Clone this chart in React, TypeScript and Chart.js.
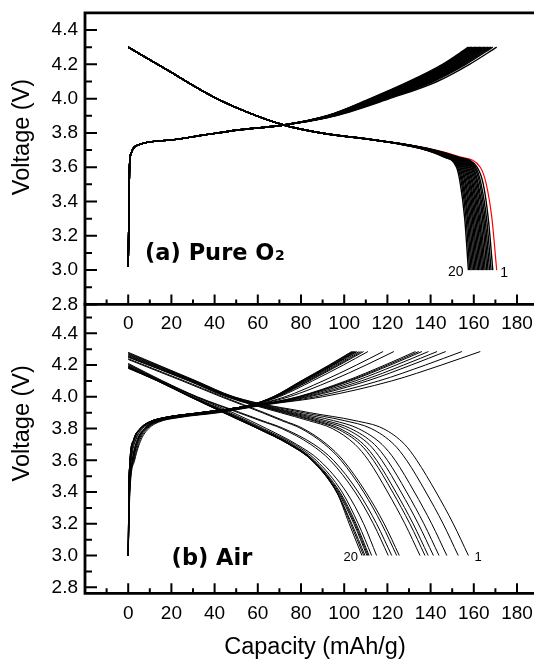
import React, { useEffect, useRef } from 'react';
import { Chart, registerables } from 'chart.js';

Chart.register(...registerables);

// ---------------- data ----------------
const X_TICKS = [0, 20, 40, 60, 80, 100, 120, 140, 160, 180];
const X_MINOR = [-10, 10, 30, 50, 70, 90, 110, 130, 150, 170, 190];
const Y_TICKS = [2.8, 3.0, 3.2, 3.4, 3.6, 3.8, 4.0, 4.2, 4.4];
const Y_MINOR = [2.9, 3.1, 3.3, 3.5, 3.7, 3.9, 4.1, 4.3, 4.5];

// (a) Pure O2 — charge: common start, then per-cycle capacity at tail voltages
const O2_CHG_HEAD_C = [0, 0.3, 0.6, 1.3, 3.6, 19.4, 35.1, 50.9, 72];
const O2_CHG_HEAD_V = [3.02, 3.3, 3.6, 3.68, 3.725, 3.758, 3.788, 3.817, 3.846];
const O2_CHG_TAIL_V = [3.9, 4.0, 4.1, 4.2, 4.3];
const O2_CHG_TAIL_C = [
  [96, 121, 143, 158, 170.6],
  [95.5, 119.8, 141.2, 156.3, 168.8],
  [95.2, 119.2, 140.4, 155.5, 168.0],
  [95, 118.7, 139.7, 154.9, 167.3],
  [94.8, 118.3, 139, 154.2, 166.6],
  [94.6, 117.8, 138.4, 153.6, 166],
  [94.4, 117.4, 137.7, 152.9, 165.3],
  [94.2, 117, 137.2, 152.4, 164.7],
  [94, 116.5, 136.6, 151.8, 164.1],
  [93.8, 116.1, 136, 151.2, 163.5],
  [93.6, 115.7, 135.4, 150.6, 162.9],
  [93.5, 115.3, 134.8, 150.1, 162.3],
  [93.3, 114.9, 134.2, 149.5, 161.7],
  [93.1, 114.5, 133.6, 148.9, 161.1],
  [92.9, 114.1, 133, 148.4, 160.5],
  [92.7, 113.6, 132.4, 147.8, 159.9],
  [92.5, 113.2, 131.8, 147.2, 159.3],
  [92.4, 112.8, 131.2, 146.6, 158.7],
  [92.2, 112.4, 130.6, 146.1, 158.1],
  [92, 112, 130, 145.5, 157.5],
];
// (a) Pure O2 — discharge
const O2_DIS_HEAD_C = [0, 19.4, 35.1, 50.9, 72, 90, 113.9];
const O2_DIS_HEAD_V = [4.3, 4.157, 4.04, 3.943, 3.846, 3.798, 3.759];
const O2_DIS_TAIL_V = [3.71, 3.66, 3.6, 3.5, 3.3, 3.0];
const O2_DIS_TAIL_C = [
  [139, 153.5, 163, 165.8, 168.4, 170.6],
  [138.5, 152.5, 161.5, 164.4, 166.7, 168.8],
  [138.2, 152, 160.8, 163.4, 165.9, 168.0],
  [138, 151.6, 160.2, 162.8, 165.2, 167.3],
  [137.8, 151.2, 159.6, 162.1, 164.6, 166.6],
  [137.6, 150.9, 159.1, 161.6, 164, 166],
  [137.4, 150.5, 158.5, 161, 163.3, 165.3],
  [137.2, 150.1, 158, 160.4, 162.7, 164.7],
  [137, 149.8, 157.5, 159.8, 162.2, 164.1],
  [136.8, 149.4, 157, 159.3, 161.6, 163.5],
  [136.6, 149.1, 156.5, 158.7, 161, 162.9],
  [136.5, 148.7, 156, 158.2, 160.4, 162.3],
  [136.3, 148.4, 155.5, 157.7, 159.8, 161.7],
  [136.1, 148.1, 155, 157.1, 159.3, 161.1],
  [135.9, 147.7, 154.5, 156.5, 158.7, 160.5],
  [135.7, 147.4, 154, 156, 158.1, 159.9],
  [135.5, 147, 153.5, 155.4, 157.5, 159.3],
  [135.4, 146.7, 153, 154.9, 157, 158.7],
  [135.2, 146.3, 152.5, 154.4, 156.4, 158.1],
  [135, 146, 152, 153.8, 155.8, 157.5],
];

// (b) Air — charge: capacity per cycle at each voltage
const AIR_CHG_V = [3.0, 3.4, 3.6, 3.73, 3.8, 3.84, 3.87, 3.9, 3.95, 4.0, 4.1, 4.2, 4.285];
const AIR_CHG_C = [
  [0, 0.8, 3, 6, 9.5, 14, 24, 42, 64, 90, 122, 145, 163],
  [0, 0.7, 2.7, 5.5, 8.9, 13.4, 23, 40.7, 63, 86.7, 116, 137.6, 154.5],
  [0, 0.7, 2.4, 5.1, 8.4, 12.8, 22.1, 39.6, 62.1, 83.8, 110.7, 131, 147],
  [0, 0.6, 2.3, 4.8, 8.2, 12.5, 21.6, 39, 61.6, 82.3, 107.9, 127.5, 143],
  [0, 0.6, 2.1, 4.6, 7.9, 12.2, 21.2, 38.4, 61.2, 80.7, 105.1, 124, 139],
  [0, 0.6, 2, 4.4, 7.7, 12, 20.8, 37.9, 60.8, 79.6, 102.9, 121.4, 136],
  [0, 0.6, 2, 4.3, 7.6, 11.8, 20.6, 37.7, 60.6, 79, 101.9, 120.1, 134.5],
  [0, 0.5, 1.9, 4.2, 7.5, 11.7, 20.5, 37.5, 60.5, 78.4, 100.8, 118.8, 133],
  [0, 0.5, 1.5, 3.6, 6.8, 11, 19.3, 36, 59.3, 74.5, 93.8, 110.1, 123],
  [0, 0.4, 1.3, 3.4, 6.5, 10.6, 18.7, 35.2, 58.7, 72.6, 90.2, 105.7, 118],
  [0, 0.4, 1.1, 2.9, 6, 10.1, 17.9, 34.1, 57.9, 69.9, 85.3, 99.6, 111],
  [0, 0.3, 1, 2.8, 5.9, 9.9, 17.6, 33.8, 57.6, 69.1, 83.9, 97.8, 109],
  [0, 0.3, 1, 2.8, 5.8, 9.8, 17.5, 33.7, 57.5, 68.7, 83.2, 97, 108],
  [0, 0.3, 0.9, 2.7, 5.7, 9.8, 17.4, 33.5, 57.4, 68.4, 82.5, 96.1, 107],
  [0, 0.3, 0.9, 2.6, 5.7, 9.7, 17.3, 33.4, 57.3, 68, 81.8, 95.2, 106],
  [0, 0.3, 0.9, 2.6, 5.6, 9.7, 17.2, 33.3, 57.2, 67.8, 81.4, 94.8, 105.5],
  [0, 0.3, 0.9, 2.6, 5.6, 9.6, 17.2, 33.2, 57.2, 67.6, 81.1, 94.3, 105],
  [0, 0.3, 0.8, 2.6, 5.6, 9.6, 17.1, 33.2, 57.1, 67.4, 80.7, 93.9, 104.5],
  [0, 0.3, 0.8, 2.5, 5.5, 9.5, 17.1, 33.1, 57.1, 67.2, 80.3, 93.4, 104],
  [0, 0.3, 0.8, 2.5, 5.5, 9.5, 17, 33, 57, 67, 80, 93, 103.5],
];
// (b) Air — discharge: open-circuit start voltage, then capacity at each voltage
const AIR_DIS_START_V = [4.28, 4.275, 4.27, 4.265, 4.26, 4.255, 4.25, 4.25, 4.24, 4.235, 4.21, 4.205, 4.2, 4.195, 4.19, 4.19, 4.185, 4.185, 4.18, 4.18];
const AIR_DIS_V = [4.1, 4.0, 3.9, 3.85, 3.8, 3.7, 3.6, 3.4, 3.2, 3.0];
const AIR_DIS_C = [
  [31.5, 49, 84, 105, 118, 128, 133.6, 142.5, 150.5, 157.5],
  [31, 48.5, 81, 100, 112.5, 123, 128.9, 137.8, 145.8, 152.8],
  [30.5, 48, 78, 95, 106.5, 117.5, 123.6, 132.5, 140.5, 147.5],
  [30, 47.5, 76, 91.5, 103, 114, 120, 128.9, 136.9, 143.9],
  [29.5, 47, 74.5, 89, 100.5, 111.5, 117.4, 126.3, 134.3, 141.3],
  [29, 46.5, 73, 87, 98, 109, 115, 123.9, 131.9, 138.9],
  [28.5, 46, 72, 85.5, 96.5, 107.5, 113.5, 122.4, 130.4, 137.4],
  [28, 45.5, 70.5, 83.5, 94.5, 105, 111.2, 120.1, 128.1, 135.1],
  [26, 44, 63, 72, 81, 92, 99.5, 110, 118.5, 125.5],
  [25, 43, 62, 71, 80, 91, 98.5, 109, 117.3, 124.3],
  [16, 32, 52, 62, 72, 86, 95, 106.5, 115, 122],
  [15.5, 31.5, 51, 61, 71, 84.5, 93.5, 105, 113.5, 120.4],
  [15, 31, 48.5, 56.5, 64, 78, 88.5, 101, 109, 115],
  [14.5, 30, 47, 55, 62.5, 77, 87, 99, 106.5, 112.7],
  [14, 29.5, 46, 54, 61.5, 76, 86, 98, 105.5, 111.5],
  [14, 29, 45.5, 53.5, 61, 75.5, 85.5, 97.5, 105, 111],
  [13.8, 29, 45, 53, 60.5, 75, 85.5, 97, 104.5, 110.5],
  [13.7, 28.8, 44.5, 52.5, 60, 74.5, 85, 96.5, 103.5, 109.6],
  [13.6, 28.6, 44.2, 52, 60, 74.5, 85, 96.5, 103, 109],
  [13.5, 28.5, 44, 52, 60, 74.5, 85, 96.5, 102.3, 108.2],
];

// ---------------- styling ----------------
const FONT = "'Liberation Sans', Arial, Helvetica, sans-serif";
const BOLD_FONT = "'DejaVu Sans', 'Liberation Sans', sans-serif";
const CANVAS_W = 570;
const LEFT = 85;
const RIGHT_PAD = 9.8;

function pts(cs: number[], vs: number[]) {
  return cs.map((c, i) => ({ x: c, y: vs[i] }));
}

function o2Datasets() {
  const ds: any[] = [];
  O2_DIS_TAIL_C.forEach((tail, k) => {
    ds.push({
      label: `Cycle ${k + 1} discharge`,
      data: pts([...O2_DIS_HEAD_C, ...tail], [...O2_DIS_HEAD_V, ...O2_DIS_TAIL_V]),
      borderColor: k === 0 ? '#ff0000' : '#000000',
      borderWidth: k === 0 ? 1.2 : 1.4,
      order: k === 0 ? 1 : 0,
    });
  });
  O2_CHG_TAIL_C.forEach((tail, k) => {
    ds.push({
      label: `Cycle ${k + 1} charge`,
      data: pts([...O2_CHG_HEAD_C, ...tail], [...O2_CHG_HEAD_V, ...O2_CHG_TAIL_V]),
      borderColor: '#000000',
      borderWidth: 1.4,
      order: 0,
    });
  });
  return ds;
}

function airDatasets() {
  const ds: any[] = [];
  AIR_DIS_C.forEach((row, k) => {
    ds.push({
      label: `Cycle ${k + 1} discharge`,
      data: pts([0, ...row], [AIR_DIS_START_V[k], ...AIR_DIS_V]),
      borderColor: '#000000',
      borderWidth: 1,
    });
  });
  AIR_CHG_C.forEach((row, k) => {
    ds.push({
      label: `Cycle ${k + 1} charge`,
      data: pts(row, AIR_CHG_V),
      borderColor: '#000000',
      borderWidth: 1,
    });
  });
  return ds;
}

function framePlugin(p: any) {
  return {
    id: 'frame',
    afterDraw(chart: any) {
      const { ctx, chartArea: a } = chart;
      const xs = chart.scales.x;
      const ys = chart.scales.y;
      ctx.save();
      ctx.strokeStyle = '#000';
      ctx.fillStyle = '#000';
      // inward ticks
      ctx.lineWidth = 2;
      ctx.lineCap = 'butt';
      ctx.beginPath();
      X_TICKS.forEach((v) => {
        const px = xs.getPixelForValue(v);
        ctx.moveTo(px, a.bottom);
        ctx.lineTo(px, a.bottom - 10);
      });
      X_MINOR.forEach((v) => {
        const px = xs.getPixelForValue(v);
        ctx.moveTo(px, a.bottom);
        ctx.lineTo(px, a.bottom - 5);
      });
      Y_TICKS.forEach((v) => {
        const py = ys.getPixelForValue(v);
        ctx.moveTo(a.left, py);
        ctx.lineTo(a.left + 12, py);
      });
      Y_MINOR.forEach((v) => {
        if (v >= ys.max - 0.02) return;
        const py = ys.getPixelForValue(v);
        ctx.moveTo(a.left, py);
        ctx.lineTo(a.left + 7, py);
      });
      ctx.stroke();
      // frame lines
      ctx.lineWidth = 2.8;
      ctx.lineCap = 'square';
      ctx.beginPath();
      ctx.moveTo(a.left, a.top);
      ctx.lineTo(a.left, a.bottom);
      ctx.lineTo(a.right + 6, a.bottom);
      if (p.topLine) {
        ctx.moveTo(a.left, a.top);
        ctx.lineTo(a.right + 6, a.top);
      }
      ctx.stroke();

      // y title
      ctx.save();
      ctx.font = `23.5px ${FONT}`;
      ctx.translate(23, p.yTitleY);
      ctx.rotate(-Math.PI / 2);
      ctx.textAlign = 'center';
      ctx.textBaseline = 'middle';
      ctx.fillText('Voltage (V)', 0, 0);
      ctx.restore();

      // x title
      if (p.xTitle) {
        ctx.font = `23.5px ${FONT}`;
        ctx.textAlign = 'center';
        ctx.textBaseline = 'alphabetic';
        ctx.fillText('Capacity (mAh/g)', 315, 653.5);
      }

      // panel label
      const lx = xs.getPixelForValue(p.panelAt[0]);
      const ly = ys.getPixelForValue(p.panelAt[1]);
      ctx.font = `bold 22.5px ${BOLD_FONT}`;
      ctx.textAlign = 'left';
      ctx.textBaseline = 'alphabetic';
      ctx.fillText(p.panelText, lx, ly);
      if (p.panelSub) {
        const w = ctx.measureText(p.panelText).width;
        ctx.font = `bold 14px ${BOLD_FONT}`;
        ctx.fillText(p.panelSub, lx + w + 0.5, ly);
      }

      // cycle number labels
      ctx.font = `${p.numSize}px ${FONT}`;
      ctx.textAlign = 'center';
      ctx.textBaseline = 'middle';
      ctx.fillText('20', xs.getPixelForValue(p.n20[0]), ys.getPixelForValue(p.n20[1]));
      ctx.fillText('1', xs.getPixelForValue(p.n1[0]), ys.getPixelForValue(p.n1[1]));
      ctx.restore();
    },
  };
}

function makeConfig(p: any): any {
  return {
    type: 'line',
    data: { datasets: p.datasets },
    options: {
      animation: false,
      responsive: false,
      maintainAspectRatio: false,
      devicePixelRatio: 1,
      events: [],
      layout: { padding: { top: p.top, left: 0, right: RIGHT_PAD, bottom: 0 } },
      plugins: { legend: { display: false }, tooltip: { enabled: false }, title: { display: false } },
      elements: {
        point: { radius: 0 },
        line: { cubicInterpolationMode: 'monotone', fill: false },
      },
      scales: {
        x: {
          type: 'linear',
          min: -20,
          max: 200,
          grid: { display: false, drawTicks: false },
          border: { display: false },
          ticks: {
            color: '#000',
            font: { family: FONT, size: 19 },
            padding: p.xPad,
            maxRotation: 0,
            autoSkip: false,
            callback: (v: any) => String(v),
          },
          afterBuildTicks: (s: any) => {
            s.ticks = X_TICKS.map((v) => ({ value: v }));
          },
          afterFit: (s: any) => {
            s.height = p.xHeight;
            s.paddingLeft = 0;
            s.paddingRight = 0;
          },
        },
        y: {
          type: 'linear',
          min: p.yMin,
          max: p.yMax,
          grid: { display: false, drawTicks: false },
          border: { display: false },
          ticks: {
            color: '#000',
            font: { family: FONT, size: 19 },
            padding: 7,
            callback: (v: any) => Number(v).toFixed(1),
          },
          afterBuildTicks: (s: any) => {
            s.ticks = Y_TICKS.map((v) => ({ value: v }));
          },
          afterFit: (s: any) => {
            s.width = LEFT;
            s.paddingTop = 0;
            s.paddingBottom = 0;
          },
        },
      },
    },
    plugins: [framePlugin(p)],
  };
}

const TOP_H = 345;
const BOT_H = 660;

export default function App() {
  const topRef = useRef<HTMLCanvasElement>(null);
  const botRef = useRef<HTMLCanvasElement>(null);

  useEffect(() => {
    document.body.style.margin = '0';
    const top = new Chart(topRef.current as HTMLCanvasElement, makeConfig({
      datasets: o2Datasets(),
      top: 12.9,
      xHeight: TOP_H - 304.4,
      xPad: 8,
      yMin: 2.8,
      yMax: 4.5,
      yTitleY: 137,
      topLine: true,
      xTitle: false,
      panelText: '(a) Pure O',
      panelSub: '2',
      panelAt: [7.8, 3.059],
      numSize: 14,
      n20: [151.7, 2.986],
      n1: [174, 2.983],
    }));
    const bot = new Chart(botRef.current as HTMLCanvasElement, makeConfig({
      datasets: airDatasets(),
      top: 304.4,
      xHeight: BOT_H - 593.3,
      xPad: 9,
      yMin: 2.762,
      yMax: 4.582,
      yTitleY: 423.3,
      topLine: false,
      xTitle: true,
      panelText: '(b) Air',
      panelSub: '',
      panelAt: [20.1, 2.94],
      numSize: 13,
      n20: [103, 2.988],
      n1: [162, 2.99],
    }));
    return () => {
      top.destroy();
      bot.destroy();
    };
  }, []);

  return (
    <div style={{ position: 'relative', width: 534, height: 660, overflow: 'hidden', background: '#ffffff' }}>
      <canvas
        ref={botRef}
        width={CANVAS_W}
        height={BOT_H}
        style={{ position: 'absolute', left: 0, top: 0, width: CANVAS_W, height: BOT_H }}
      />
      <canvas
        ref={topRef}
        width={CANVAS_W}
        height={TOP_H}
        style={{ position: 'absolute', left: 0, top: 0, width: CANVAS_W, height: TOP_H }}
      />
    </div>
  );
}
